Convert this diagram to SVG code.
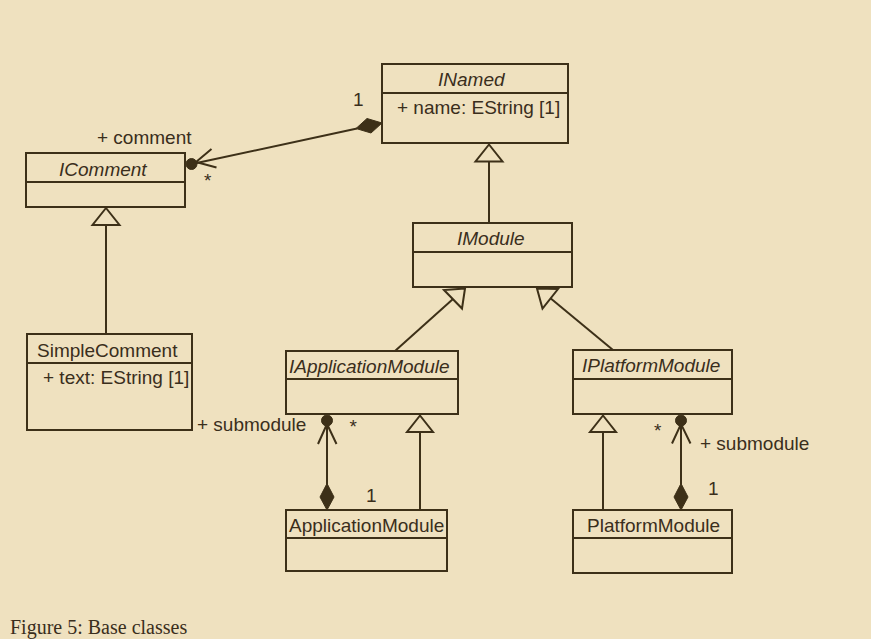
<svg xmlns="http://www.w3.org/2000/svg" width="871" height="639" viewBox="0 0 871 639">
<style>
.box{fill:none;stroke:#3d3018;stroke-width:2}
.ln{fill:none;stroke:#3d3018;stroke-width:2}
.fill{fill:#3d3018;stroke:#3d3018;stroke-width:1}
.tri{fill:#efe1bf;stroke:#3d3018;stroke-width:2;stroke-linejoin:miter}
text{font-family:"Liberation Sans",Arial,sans-serif;font-size:19px;fill:#3a2e1c}
.it{font-style:italic}
.cap{font-family:"Liberation Serif","Times New Roman",serif;font-size:20px}
</style>
<rect x="0" y="0" width="871" height="639" fill="#efe1bf"/>

<g id="INamed">
<rect class="box" x="382" y="64" width="186" height="79"/>
<line class="ln" x1="382" y1="93" x2="569" y2="93"/>
<text class="it" x="438" y="86">INamed</text>
<text x="397" y="114">+ name: EString [1]</text>
</g>

<g id="IComment">
<rect class="box" x="26" y="153" width="159" height="54"/>
<line class="ln" x1="26" y1="182" x2="186" y2="182"/>
<text class="it" x="59" y="176">IComment</text>
</g>

<g id="IModule">
<rect class="box" x="413" y="223" width="159" height="64"/>
<line class="ln" x1="413" y1="252" x2="573" y2="252"/>
<text class="it" x="457" y="245">IModule</text>
</g>

<g id="SimpleComment">
<rect class="box" x="27" y="334" width="165" height="96"/>
<line class="ln" x1="27" y1="363" x2="193" y2="363"/>
<text x="37" y="357">SimpleComment</text>
<text x="43" y="384">+ text: EString [1]</text>
</g>

<g id="IApplicationModule">
<rect class="box" x="286" y="351" width="172" height="63"/>
<line class="ln" x1="286" y1="379" x2="459" y2="379"/>
<text class="it" x="289" y="373">IApplicationModule</text>
</g>

<g id="IPlatformModule">
<rect class="box" x="573" y="350" width="159" height="64"/>
<line class="ln" x1="573" y1="379" x2="733" y2="379"/>
<text class="it" x="582" y="372">IPlatformModule</text>
</g>

<g id="ApplicationModule">
<rect class="box" x="286" y="510" width="161" height="61"/>
<line class="ln" x1="286" y1="538" x2="448" y2="538"/>
<text x="289" y="532">ApplicationModule</text>
</g>

<g id="PlatformModule">
<rect class="box" x="573" y="510" width="159" height="63"/>
<line class="ln" x1="573" y1="538" x2="733" y2="538"/>
<text x="587" y="532">PlatformModule</text>
</g>

<g id="connectors">
<!-- INamed comment composition -->
<line class="ln" x1="357" y1="128.5" x2="192" y2="164"/>
<polygon class="fill" points="382,123 371,133 356,128.5 367,118.5"/>
<circle class="fill" cx="191.5" cy="164" r="5.5"/>
<polyline class="ln" points="211.5,149 196,162 216.5,167.5"/>
<text x="353" y="106">1</text>
<text x="97" y="144">+ comment</text>
<text x="204" y="187">*</text>

<!-- IModule -> INamed -->
<line class="ln" x1="489" y1="162" x2="489" y2="223"/>
<polygon class="tri" points="489,144.5 475.5,161.5 502.5,161.5"/>

<!-- SimpleComment -> IComment -->
<line class="ln" x1="106" y1="225" x2="106" y2="334"/>
<polygon class="tri" points="106,208 92.5,225 119.5,225"/>

<!-- IApplicationModule -> IModule -->
<line class="ln" x1="395" y1="351" x2="453" y2="299"/>
<polygon class="tri" points="465,288.5 444,290 462,308.5"/>

<!-- IPlatformModule -> IModule -->
<line class="ln" x1="613" y1="350" x2="549" y2="297"/>
<polygon class="tri" points="537,288.5 558,289 542.5,308.5"/>

<!-- ApplicationModule -> IApplicationModule -->
<line class="ln" x1="420" y1="432" x2="420" y2="510"/>
<polygon class="tri" points="420,415.5 407,432 433,432"/>

<!-- PlatformModule -> IPlatformModule -->
<line class="ln" x1="603" y1="432" x2="603" y2="510"/>
<polygon class="tri" points="603,415.5 590,432 616,432"/>

<!-- ApplicationModule submodule composition -->
<line class="ln" x1="327" y1="420" x2="327" y2="484"/>
<circle class="fill" cx="327" cy="420.5" r="5.5"/>
<polyline class="ln" points="318,444 327,424 336.5,444"/>
<polygon class="fill" points="327,483.5 334,497 327,510 320,497"/>
<text x="197" y="431">+ submodule</text>
<text x="349.5" y="432.5">*</text>
<text x="366" y="502">1</text>

<!-- PlatformModule submodule composition -->
<line class="ln" x1="681" y1="420" x2="681" y2="484"/>
<circle class="fill" cx="681" cy="420.5" r="5.5"/>
<polyline class="ln" points="672,443.5 681,424 690.5,443.5"/>
<polygon class="fill" points="681,483.5 688,497 681,510 674,497"/>
<text x="700" y="450">+ submodule</text>
<text x="654" y="436.5">*</text>
<text x="708" y="494.5">1</text>
</g>

<text class="cap" x="10" y="634">Figure 5: Base classes</text>
</svg>
